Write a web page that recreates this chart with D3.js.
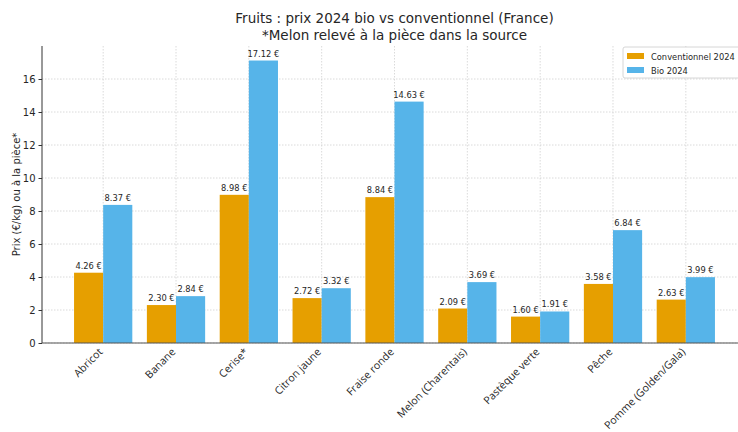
<!DOCTYPE html>
<html><head><meta charset="utf-8">
<script src="https://cdn.jsdelivr.net/npm/d3@7"></script>
<style>body{margin:0;background:#fff;} svg{font-family:"DejaVu Sans",sans-serif;}</style>
</head><body>
<svg id="c" width="738" height="432"></svg>
<script>
const categories = ["Abricot","Banane","Cerise*","Citron jaune","Fraise ronde","Melon (Charentais)","Pastèque verte","Pêche","Pomme (Golden/Gala)"];
const conventionnel = [4.26,2.30,8.98,2.72,8.84,2.09,1.60,3.58,2.63];
const bio = [8.37,2.84,17.12,3.32,14.63,3.69,1.91,6.84,3.99];
const seriesNames = ["Conventionnel 2024","Bio 2024"];
const yTicks = [0,2,4,6,8,10,12,14,16];
const titleLines = ["Fruits : prix 2024 bio vs conventionnel (France)","*Melon relevé à la pièce dans la source"];
const yLabel = "Prix (€/kg) ou à la pièce*";

const colors = ["#E69F00","#56B4E9"];
const svg = d3.select("#c");
const L = 42, T = 46, B = 343, R = 747;
const x = d3.scaleLinear().domain([-0.84, categories.length - 1 + 0.84]).range([L, R]);
const y = d3.scaleLinear().domain([0, 18]).range([B, T]);
const bw = 0.4;

// grid
const g = svg.append("g");
g.selectAll("line.gy").data(yTicks).join("line")
  .attr("x1", L).attr("x2", R).attr("y1", d => y(d)).attr("y2", d => y(d))
  .attr("stroke", "#d0d0d0").attr("stroke-width", 0.8).attr("stroke-dasharray", "1.5,1.5");
g.selectAll("line.gx").data(categories).join("line")
  .attr("x1", (d,i) => x(i)).attr("x2", (d,i) => x(i)).attr("y1", T).attr("y2", B)
  .attr("stroke", "#d0d0d0").attr("stroke-width", 0.8).attr("stroke-dasharray", "1.5,1.5");

const data = [conventionnel, bio];
data.forEach((vals, s) => {
  const off = s === 0 ? -bw : 0;
  svg.append("g").selectAll("rect").data(vals).join("rect")
    .attr("x", (d,i) => x(i + off)).attr("width", (d,i) => x(i + off + bw) - x(i + off))
    .attr("y", d => y(d)).attr("height", d => y(0) - y(d))
    .attr("fill", colors[s]);
  svg.append("g").selectAll("text").data(vals).join("text")
    .attr("x", (d,i) => x(i + off + bw/2)).attr("y", d => y(d) - 4)
    .attr("text-anchor", "middle").attr("font-size", 8.3).attr("fill", "#262626")
    .text(d => d.toFixed(2) + " €");
});

// axes
const yAxis = svg.append("g").attr("transform", `translate(${L},0)`)
  .call(d3.axisLeft(y).tickValues(yTicks).tickSize(3.5).tickPadding(3).tickFormat(d3.format("d")));
yAxis.select(".domain").attr("d", `M0,${T}V${B}`).attr("stroke", "#333");
yAxis.selectAll("text").attr("font-size", 10).attr("fill", "#262626").attr("font-family", "DejaVu Sans");
yAxis.selectAll(".tick line").attr("stroke", "#333");

const xAxis = svg.append("g").attr("transform", `translate(0,${B})`)
  .call(d3.axisBottom(x).tickValues(d3.range(categories.length)).tickSize(0).tickFormat(i => categories[i]));
xAxis.select(".domain").attr("d", `M${L},0H${R}`).attr("stroke", "#555").attr("stroke-width", 1.2);
xAxis.selectAll("text").attr("font-size", 10.6).attr("fill", "#262626").attr("font-family", "Open Sans")
  .attr("text-anchor", "end").attr("dy", "0.35em").attr("y", null)
  .attr("transform", "translate(-3,7) rotate(-45)");

// title
svg.append("g").selectAll("text").data(titleLines).join("text")
  .attr("x", (L + R) / 2).attr("y", (d,i) => 23 + i * 17)
  .attr("text-anchor", "middle").attr("font-size", 13.5).attr("fill", "#262626").text(d => d);

// y label
svg.append("text").attr("transform", `translate(20,${(T + B) / 2}) rotate(-90)`)
  .attr("text-anchor", "middle").attr("font-size", 10).attr("fill", "#262626").text(yLabel);

// legend
const lg = svg.append("g").attr("transform", "translate(623,47)");
lg.append("rect").attr("x", 0).attr("y", 0).attr("width", 125).attr("height", 31).attr("rx", 2)
  .attr("fill", "#fff").attr("fill-opacity", 0.85).attr("stroke", "#ccc").attr("stroke-width", 0.8);
seriesNames.forEach((n, i) => {
  lg.append("rect").attr("x", 4).attr("y", 6 + i * 14).attr("width", 17).attr("height", 6).attr("fill", colors[i]);
  lg.append("text").attr("x", 28).attr("y", 12.5 + i * 14).attr("font-size", 8.3).attr("fill", "#262626").text(n);
});
</script>
</body></html>
